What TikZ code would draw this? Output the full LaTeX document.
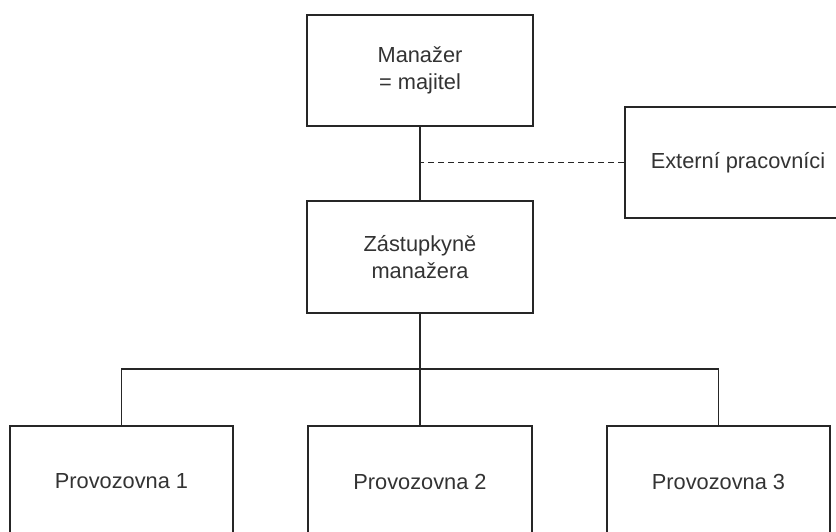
\documentclass[tikz,border=0pt]{standalone}
\usepackage{fontspec}
\setmainfont{Liberation Sans}
\begin{document}
\begin{tikzpicture}[x=1pt,y=-1pt,
  box/.style={draw=black!85,line width=1.8pt,minimum width=226pt,minimum height=111pt,
    align=center,inner sep=0pt,text=black!80,font=\fontsize{21.8}{26.5}\selectfont},
  link/.style={draw=black!85,line width=1.8pt},
  dashlink/.style={link,dash pattern=on 6pt off 4pt}]
\path[use as bounding box,clip] (0,0) rectangle (836,531);
\fill[white] (0,0) rectangle (836,531);
\node[box] (man) at (420,70.5) {Manažer\\= majitel};
\node[box] (ext) at (738,162.5) {Externí pracovníci};
\node[box,minimum height=112pt] (zas) at (420,257) {Zástupkyně\\manažera};
\node[box,minimum width=223pt] (p1) at (121.5,481.5) {Provozovna 1};
\node[box,minimum width=224pt] (p2) at (420,481.5) {Provozovna 2};
\node[box,minimum width=223pt] (p3) at (718.5,481.5) {Provozovna 3};
\coordinate (bus) at (420,369);
\draw[link] (man.south) -- (zas.north);
\draw[dashlink] (ext.west) -- (ext.west -| man.south);
\draw[link] (zas.south) -- (p2.north);
\draw[link] (p1.north) |- (bus) -| (p3.north);
\end{tikzpicture}
\end{document}
